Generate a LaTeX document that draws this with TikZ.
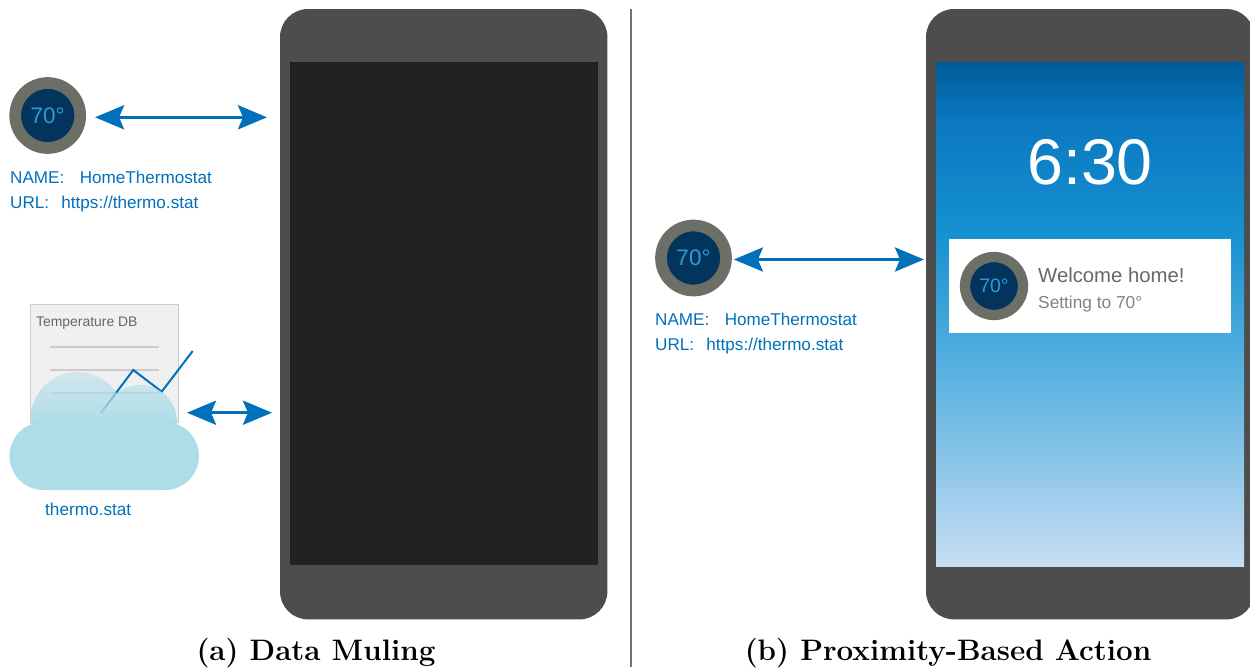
\documentclass[tikz,border=0pt]{standalone}
\usepackage{fontspec}
\setmainfont{Liberation Sans}
\newfontfamily\capfont{Latin Modern Roman}
\usetikzlibrary{arrows.meta,calc,fadings}
\definecolor{phone}{HTML}{4D4D4D}
\definecolor{screen}{HTML}{222222}
\definecolor{tblue}{HTML}{0070BB}
\definecolor{ring}{HTML}{6B6F66}
\definecolor{dial}{HTML}{03345C}
\definecolor{dialtxt}{HTML}{2E9BD6}
\definecolor{cloudc}{HTML}{AEDCE9}
\definecolor{gA}{HTML}{005C98}
\definecolor{gB}{HTML}{0B78C0}
\definecolor{gC}{HTML}{1590D0}
\definecolor{gD}{HTML}{5DB3E1}
\definecolor{gE}{HTML}{C6DDF2}
\tikzfading[name=cloudfade,top color=transparent!55,bottom color=transparent!0]
\begin{document}
\begin{tikzpicture}[x=1pt,y=-1pt,
 phonebody/.style={fill=phone,draw=none,rounded corners=28pt},
 biarrow/.style={draw=tblue,line width=3.4pt,{Stealth[length=29pt,width=24pt,inset=5pt]}-{Stealth[length=29pt,width=24pt,inset=5pt]}},
 lab/.style={text=tblue,font=\fontsize{17.1}{20}\selectfont,anchor=base west,inner sep=0pt},
 captext/.style={font=\fontsize{29.6}{32}\selectfont\capfont\bfseries,inner sep=0pt,anchor=base},
 thermo/.style={circle,fill=dial,draw=ring,text=dialtxt,inner sep=0pt,line width=11.7pt,minimum size=65pt,font=\fontsize{22.5}{24}\selectfont},
 thermosmall/.style={thermo,line width=10.3pt,minimum size=58pt,font=\fontsize{19.5}{22}\selectfont}]
\useasboundingbox (0,0) rectangle (1250,667);
\begin{scope}
\clip (0,0) rectangle (1250,667);
% phones
\node[inner sep=0pt,minimum width=327pt,minimum height=610pt,anchor=north west] (phoneA) at (280,9) {};
\fill[phonebody] (phoneA.north west) rectangle (phoneA.south east);
\node[fill=screen,minimum width=308pt,minimum height=503pt,inner sep=0pt,anchor=north west] (scrA) at (290,62) {};
\node[inner sep=0pt,minimum width=328pt,minimum height=610pt,anchor=north west] (phoneB) at (926,9) {};
\fill[phonebody] (phoneB.north west) rectangle (phoneB.south east);
% gradient screen
\shade[top color=gA,bottom color=gB] (936,62) rectangle (1244,120.4);
\shade[top color=gB,bottom color=gC] (936,120) rectangle (1244,230.4);
\shade[top color=gC,bottom color=gD] (936,230) rectangle (1244,380.4);
\shade[top color=gD,bottom color=gE] (936,380) rectangle (1244,566);
\node[text=white,font=\fontsize{64.5}{66}\selectfont,inner sep=0pt,anchor=base] (clock) at (1090,184) {6:30};
\node[fill=white,minimum width=282pt,minimum height=94pt,inner sep=0pt,anchor=north west] (note) at (949,239) {};
\node[thermosmall] (thermN) at (994,286) {\raisebox{-5pt}{70°}};
\node[text=phone!85!white,font=\fontsize{20.3}{24}\selectfont,inner sep=0pt,anchor=base west] (welc) at (1038,282) {Welcome home!};
\node[text=phone!70!white,font=\fontsize{17.3}{20}\selectfont,inner sep=0pt,anchor=base west] (sett) at (1038,308) {Setting to 70°};
\end{scope}
% divider
\coordinate (divT) at (631,9);
\coordinate (divB) at (631,667);
\draw[draw=black!55,line width=1.4pt] (divT) -- (divB);
% left thermostat
\node[thermo] (thermA) at (47.7,115.5) {\raisebox{-5pt}{70°}};
\node[lab] (nameA) at (10,183) {NAME:\hspace{15.5pt}HomeThermostat};
\node[lab] (urlA) at (10,208) {URL:\hspace{12.3pt}https://thermo.stat};
\draw[biarrow,shorten <=9pt,shorten >=13pt] ([yshift=-1.8pt]thermA.east) -- ([yshift=-1.8pt]thermA.east -| phoneA.west);
% database
\node[draw=black!20,fill=black!6,line width=1pt,inner sep=0pt,minimum width=148pt,minimum height=118pt,anchor=north west,outer sep=0pt] (paper) at (30.3,304.7) {};
\node[text=black!60,font=\fontsize{13.9}{16}\selectfont,inner sep=0pt,anchor=base west] (dbt) at (36,326) {Temperature DB};
\coordinate (l1a) at (50,346.7); \coordinate (l1b) at (158.5,346.7);
\coordinate (l2a) at (50,369.7); \coordinate (l2b) at (158.5,369.7);
\coordinate (l3a) at (50,393); \coordinate (l3b) at (158.5,393);
\draw[draw=black!20,line width=2pt] (l1a) -- (l1b) (l2a) -- (l2b) (l3a) -- (l3b);
\coordinate (c1) at (100.7,413.3); \coordinate (c2) at (133.3,370);
\coordinate (c3) at (161.7,391.7); \coordinate (c4) at (192.7,351);
\draw[draw=tblue,line width=2pt] (c1) -- (c2) -- (c3) -- (c4);
% cloud: two faded lobes above a solid body
\fill[cloudc,path fading=cloudfade]
 (30.5,424) -- (30.5,419)
 arc[start angle=180,end angle=326.6,radius=47] -- (117,393)
 arc[start angle=231.6,end angle=360,radius=37] -- (177,424) -- cycle;
\fill[cloudc]
 (43.5,490) arc[start angle=90,end angle=270,radius=34] -- (165,422)
 arc[start angle=-90,end angle=90,radius=34] -- cycle;
\node[text=tblue,font=\fontsize{17.2}{20}\selectfont,inner sep=0pt,anchor=base west] (cloudt) at (45,515) {thermo.stat};
\coordinate (cloudR) at (187,412.7);
\draw[biarrow] (cloudR) -- ([xshift=-8pt]cloudR -| phoneA.west);
% right thermostat
\node[thermo] (thermB) at (693.5,258) {\raisebox{-5pt}{70°}};
\node[lab] (nameB) at (655,325) {NAME:\hspace{15.5pt}HomeThermostat};
\node[lab] (urlB) at (655,350) {URL:\hspace{12.3pt}https://thermo.stat};
\draw[biarrow,shorten <=2pt,shorten >=2pt] ([yshift=-1.5pt]thermB.east) -- ([yshift=-1.5pt]thermB.east -| phoneB.west);
% captions
\node[captext] (capA) at (316,660) {(a) Data Muling};
\node[captext] (capB) at (948,660) {(b) Proximity-Based Action};
\end{tikzpicture}
\end{document}
